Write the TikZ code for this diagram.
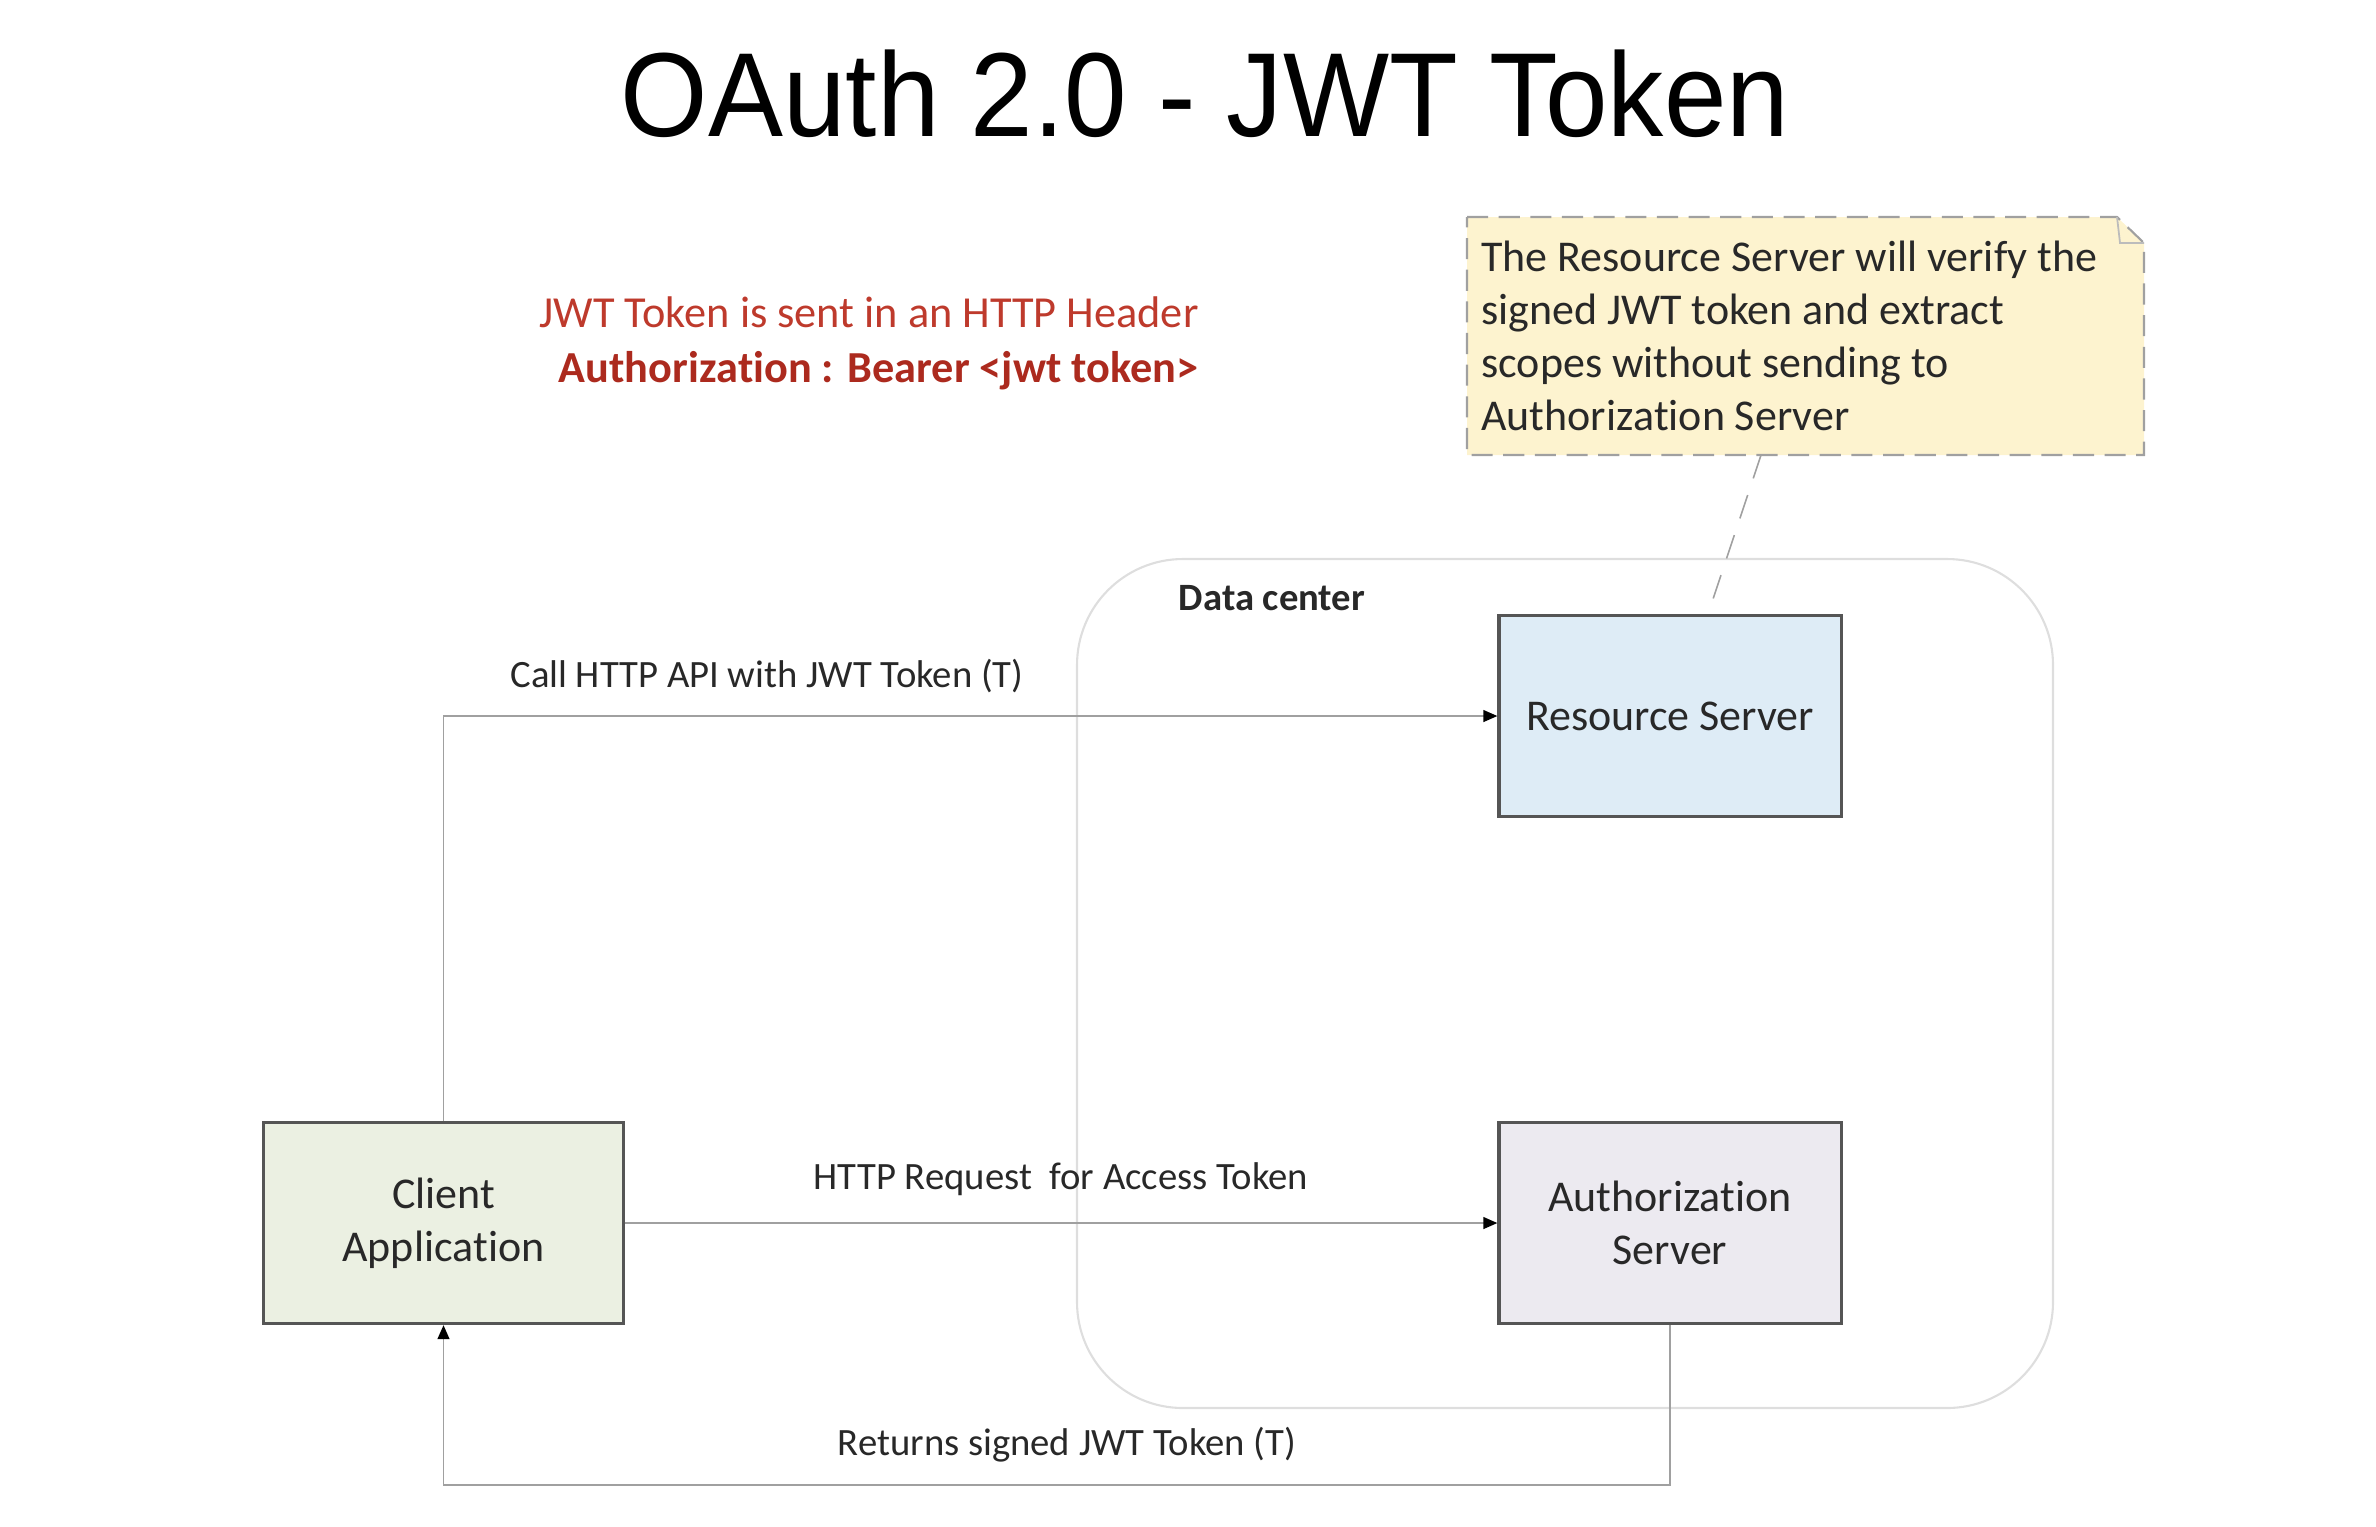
\documentclass[tikz,border=0pt]{standalone}
\usepackage{fontspec}
\setmainfont{Carlito}[Ligatures={NoCommon,NoContextual}]
\newfontfamily\titlefont{Liberation Sans}
\usetikzlibrary{arrows.meta}
\definecolor{rsblue}{RGB}{222,236,246}
\definecolor{clgreen}{RGB}{235,240,226}
\definecolor{aslilac}{RGB}{236,234,240}
\definecolor{noteyel}{RGB}{253,243,207}
\definecolor{boxgray}{RGB}{85,85,85}
\definecolor{linegray}{RGB}{160,160,160}
\definecolor{dcgray}{RGB}{222,222,222}
\definecolor{txtgray}{RGB}{40,40,40}
\definecolor{hdrred}{RGB}{190,58,44}
\definecolor{hdrdark}{RGB}{172,42,30}

\begin{document}
\begin{tikzpicture}[x=0.01cm,y=-0.01cm,
    box/.style={draw=boxgray, line width=0.9pt, minimum width=3.42cm, minimum height=2.01cm,
                align=center, text=txtgray, font=\fontsize{12.5}{15}\selectfont},
    link/.style={draw=linegray, line width=0.45pt, -{Triangle[length=4pt,width=3.4pt,color=black]}},
    lbl/.style={text=txtgray, font=\fontsize{11}{13}\selectfont}]
    \useasboundingbox (0,0) rectangle (2376,1526);
    % title
    \node (title) at (1205,94) {\titlefont\fontsize{34}{40}\selectfont\scalebox{0.94}[1]{OAuth 2.0 - JWT Token}};
    % header hint
    \node[anchor=east, align=right, text=hdrred, font=\fontsize{12.6}{15.6}\selectfont] (hdr) at (1211,343)
        {JWT Token is sent in an HTTP Header\\ {\bfseries\color{hdrdark}Authoriza\kern0pt tion : Bearer <jwt token>}};
    % data center
    \draw[dcgray, line width=0.6pt, rounded corners=1.06cm] (1077,559) rectangle (2053,1408);
    \node[font=\bfseries\fontsize{11}{13}\selectfont, text=txtgray] (dc) at (1272,598) {Data center};
    % note with folded corner
    \coordinate (n1) at (1467,217);
    \coordinate (n2) at (2117,217);
    \coordinate (n3) at (2144,243);
    \coordinate (n4) at (2144,455);
    \coordinate (n5) at (1467,455);
    \draw[linegray, fill=noteyel, dashed, dash pattern=on 6pt off 3pt, line width=0.6pt]
        (n1) -- (n2) -- (n3) -- (n4) -- (n5) -- cycle;
    \draw[linegray!70, line width=0.5pt] (n2) -- (2120,243) -- (n3);
    \node[anchor=west, align=left, text=txtgray, font=\fontsize{12.5}{15.1}\selectfont] (note) at (1469,336)
        {The Resource Server will verify the\\ signed JWT token and extract\\ scopes without sending to\\ Authoriza\kern0pt tion Server};
    % servers
    \node[box, fill=rsblue] (rs) at (1670,716) {Resource Server};
    \node[box, fill=aslilac] (as) at (1670,1223) {Authoriza\kern0pt tion\\ Server};
    \node[box, fill=clgreen, minimum width=3.59cm] (client) at (443.5,1223) {Client\\ Applica\kern0pt tion};
    % connectors
    \coordinate (notetail) at (1761,455);
    \draw[linegray, line width=0.45pt, dashed, dash pattern=on 7pt off 5pt] (notetail) -- ([xshift=0.38cm]rs.north);
    \draw[link] (client.north) |- (rs.west);
    \node[lbl] (calllbl) at (767,676) {Call HTTP API with JWT Token (T)};
    \draw[link] (client.east) -- (as.west);
    \node[lbl] (reqlbl) at (1061,1179) {HTTP Request~ for Access Token};
    \coordinate (retcorner) at (1670,1485);
    \draw[link] (as.south) -- (retcorner) -| (client.south);
    \node[lbl] (retlbl) at (1067,1445) {Returns signed JWT Token (T)};
\end{tikzpicture}
\end{document}
